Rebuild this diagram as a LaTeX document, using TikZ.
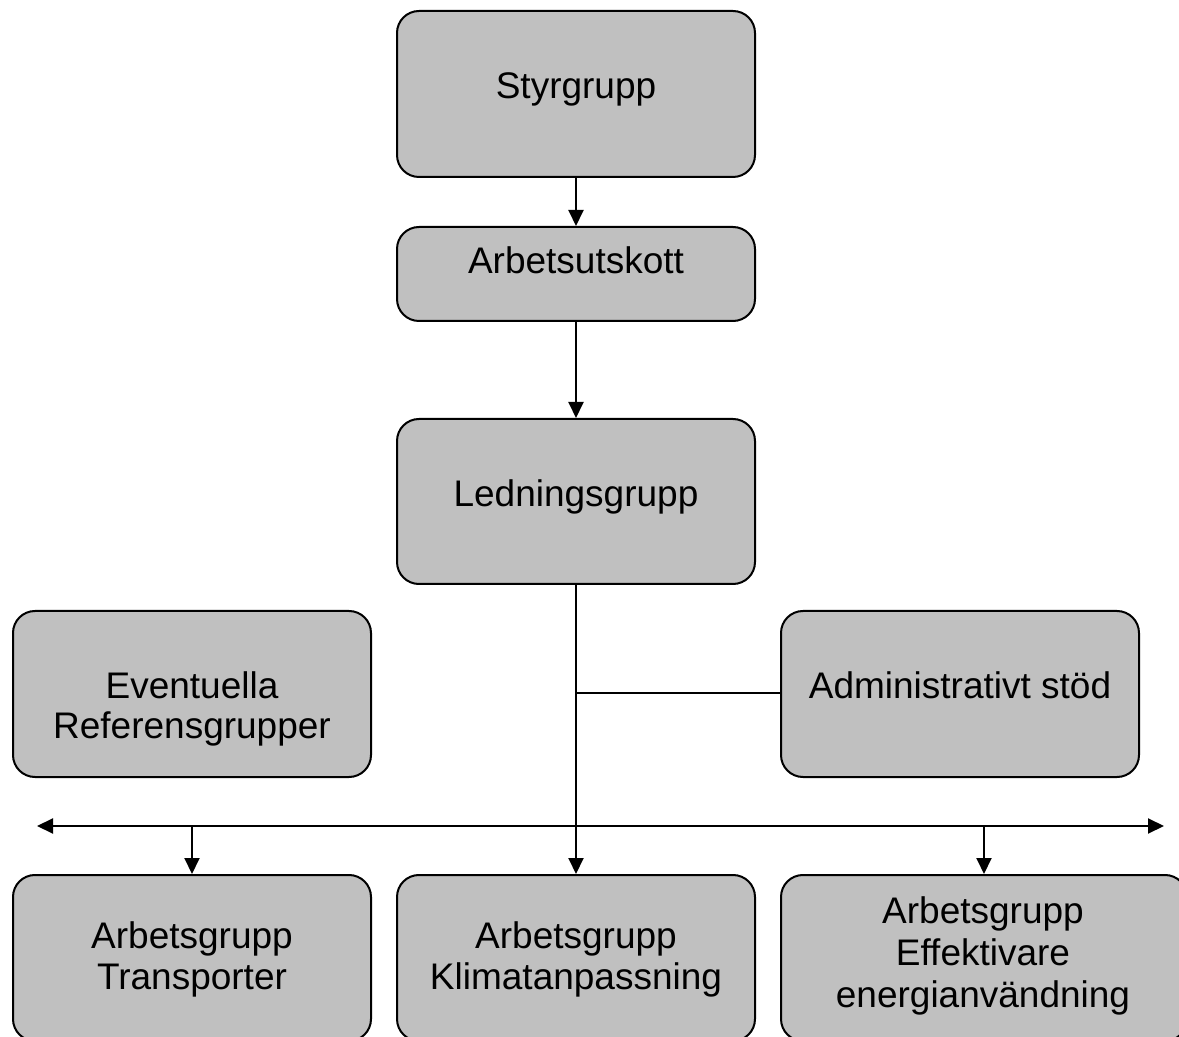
\documentclass[tikz,border=0pt]{standalone}
\usepackage{fontspec}
\setmainfont{Liberation Sans}
\usetikzlibrary{arrows.meta}
\definecolor{boxgray}{HTML}{C0C0C0}
\tikzset{
  box/.style={draw=black, fill=boxgray, line width=1pt, rounded corners=11pt,
    inner sep=0pt, minimum height=#1, anchor=center},
  lbl/.style={anchor=base, inner sep=0pt, font=\fontsize{18.5}{22}\selectfont},
  conn/.style={line width=1pt, draw=black},
  arr/.style={conn, -{Triangle[length=8pt,width=7.5pt]}},
}
\begin{document}
\begin{tikzpicture}[x=0.5pt, y=-0.5pt]
\useasboundingbox (0,0) rectangle (1179,1037);
\begin{scope}
\clip (0,0) rectangle (1179,1037);
% boxes
\node[box=83pt, minimum width=179pt] (sty) at (576,94) {};
\node[box=47pt, minimum width=179pt] (arb) at (576,274) {};
\node[box=82.5pt, minimum width=179pt] (led) at (576,501.5) {};
\node[box=83pt, minimum width=179pt] (ref) at (192,694) {};
\node[box=83pt, minimum width=179pt] (adm) at (960,694) {};
\node[box=83pt, minimum width=179pt] (tra) at (192,958) {};
\node[box=83pt, minimum width=179pt] (kli) at (576,958) {};
\node[box=83pt, minimum width=203pt] (eff) at (984,958) {};
\end{scope}
% texts
\node[lbl] (tsty) at (576,99) {Styrgrupp};
\node[lbl] (tarb) at (576,274) {Arbetsutskott};
\node[lbl] (tled) at (576,507) {Ledningsgrupp};
\node[lbl] (tref1) at (192,698) {Eventuella};
\node[lbl] (tref2) at (192,739) {Referensgrupper};
\node[lbl] (tadm) at (960,698) {Administrativt stöd};
\node[lbl] (ttra1) at (192,948) {Arbetsgrupp};
\node[lbl] (ttra2) at (192,989) {Transporter};
\node[lbl] (tkli1) at (576,948) {Arbetsgrupp};
\node[lbl] (tkli2) at (576,989) {Klimatanpassning};
\node[lbl] (teff1) at (983,923) {Arbetsgrupp};
\node[lbl] (teff2) at (983,965) {Effektivare};
\node[lbl] (teff3) at (983,1007) {energianvändning};
% connectors
\coordinate (hl) at (37,826);
\coordinate (hr) at (1164,826);
\coordinate (hm) at (576,826);
\coordinate (br) at (576,693);
\coordinate (ht) at (192,826);
\coordinate (he) at (984,826);
\draw[arr] (sty.south) -- (arb.north);
\draw[arr] (arb.south) -- (led.north);
\draw[arr] (led.south) -- (kli.north);
\draw[conn] (br) -- (br -| adm.west);
\draw[conn, {Triangle[length=8pt,width=7.5pt]}-{Triangle[length=8pt,width=7.5pt]}] (hl) -- (hr);
\draw[arr] (ht) -- (tra.north);
\draw[arr] (he) -- (eff.north);
\end{tikzpicture}
\end{document}
